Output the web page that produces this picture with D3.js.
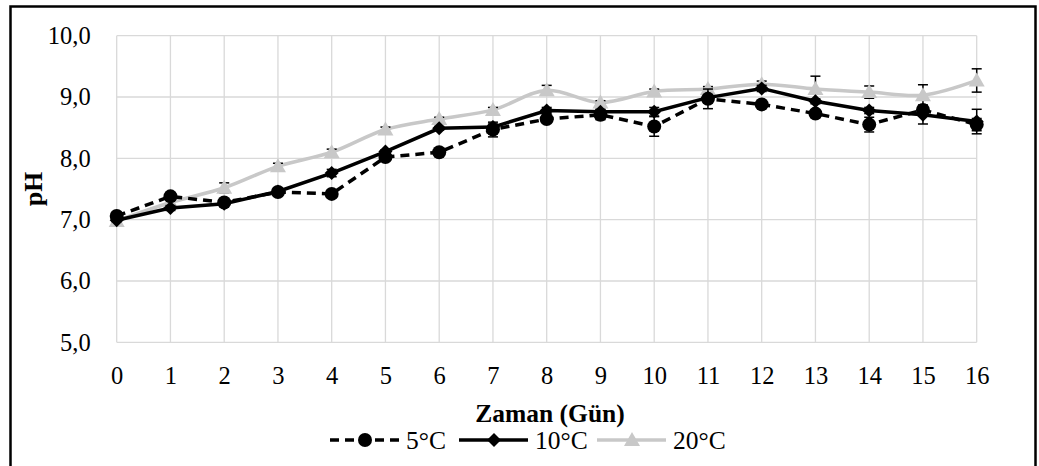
<!DOCTYPE html>
<html>
<head>
<meta charset="utf-8">
<script src="https://cdn.jsdelivr.net/npm/d3@7"></script>
<style>
  body { margin: 0; background: #fff; }
  svg, svg text { font-family: "Times New Roman", "Liberation Serif", Times, "DejaVu Serif", serif !important; }
</style>
</head>
<body>
<div id="chart"></div>
<script>
// days and pH readings
const days = d3.range(0, 17);
const yTicks = [5, 6, 7, 8, 9, 10];

const ph5 = [7.06, 7.38, 7.28, 7.45, 7.42, 8.02, 8.10, 8.47, 8.64, 8.71, 8.52, 8.97, 8.88, 8.73, 8.55, 8.79, 8.55];
const err5 = [0.03, 0.06, 0.03, 0.03, 0.03, 0.04, 0.03, 0.12, 0.05, 0.08, 0.16, 0.16, 0.04, 0.06, 0.12, 0.08, 0.1];

const ph10 = [6.99, 7.19, 7.26, 7.46, 7.76, 8.11, 8.49, 8.51, 8.78, 8.76, 8.76, 8.99, 9.14, 8.93, 8.78, 8.71, 8.60];
const err10 = [0.02, 0.04, 0.02, 0.03, 0.06, 0.03, 0.03, 0.05, 0.05, 0.04, 0.07, 0.05, 0.05, 0.04, 0.05, 0.15, 0.2];

const ph20 = [6.98, 7.28, 7.52, 7.87, 8.10, 8.47, 8.64, 8.79, 9.11, 8.91, 9.09, 9.13, 9.21, 9.13, 9.08, 9.03, 9.27];
const err20 = [0.02, 0.04, 0.08, 0.05, 0.05, 0.04, 0.03, 0.04, 0.08, 0.03, 0.04, 0.04, 0.05, 0.21, 0.1, 0.17, 0.19];

const series = [
  { name: "5°C", values: ph5, err: err5, color: "#000", dash: "9,6", marker: "circle", curve: d3.curveLinear },
  { name: "10°C", values: ph10, err: err10, color: "#000", dash: null, marker: "diamond", curve: d3.curveLinear },
  { name: "20°C", values: ph20, err: err20, color: "#c8c8c8", dash: null, marker: "triangle", curve: d3.curveCatmullRom }
];

const width = 1039, height = 466;
const margin = { top: 35.7, right: 62.3, bottom: 123.7, left: 116.7 };

const svg = d3.select("#chart").append("svg")
  .attr("width", width)
  .attr("height", height);

// outer frame (bottom edge runs off the picture)
svg.append("rect")
  .attr("x", 10.5).attr("y", 6.5)
  .attr("width", 1025).attr("height", 480)
  .attr("fill", "none").attr("stroke", "#000").attr("stroke-width", 2.5);

const x = d3.scaleLinear().domain([0, 16]).range([margin.left, width - margin.right]);
const y = d3.scaleLinear().domain([5, 10]).range([height - margin.bottom, margin.top]);

// grid
const grid = svg.append("g").attr("stroke", "#d9d9d9").attr("stroke-width", 1.3);
grid.selectAll(".hg").data(yTicks).join("line")
  .attr("x1", x(0)).attr("x2", x(16))
  .attr("y1", d => y(d)).attr("y2", d => y(d));
grid.selectAll(".vg").data(days).join("line")
  .attr("x1", d => x(d)).attr("x2", d => x(d))
  .attr("y1", y(5)).attr("y2", y(10));

// axes (text only, Excel style)
const yAxis = svg.append("g")
  .attr("transform", `translate(${x(0) - 23},0)`)
  .call(d3.axisLeft(y).tickValues(yTicks).tickFormat(d => d3.format(".1f")(d).replace(".", ",")).tickSize(0));
const xAxis = svg.append("g")
  .attr("transform", `translate(0,${y(5) + 21})`)
  .call(d3.axisBottom(x).tickValues(days).tickSize(0));
[yAxis, xAxis].forEach(a => {
  a.attr("font-family", null);
  a.select(".domain").remove();
  a.selectAll("text")
    .attr("font-size", 24.5)
    .attr("fill", "#000");
});

// axis titles
svg.append("text")
  .attr("transform", `translate(42,${(y(5) + y(10)) / 2}) rotate(-90)`)
  .attr("text-anchor", "middle")
  .attr("font-size", 25.5).attr("font-weight", "bold")
  .text("pH");

svg.append("text")
  .attr("x", 550).attr("y", 422)
  .attr("text-anchor", "middle")
  .attr("font-size", 25.5).attr("font-weight", "bold")
  .text("Zaman (Gün)");

function marker(sel, type, color) {
  if (type === "circle") {
    sel.append("circle").attr("r", 7).attr("fill", color);
  } else if (type === "diamond") {
    sel.append("path").attr("d", "M0,-7L7,0L0,7L-7,0Z").attr("fill", color);
  } else {
    sel.append("path").attr("d", "M0,-8L8,6L-8,6Z").attr("fill", color);
  }
}

// draw series back to front: 20, 10, 5
series.slice().reverse().forEach(s => {
  const g = svg.append("g");
  const line = d3.line()
    .x((d, i) => x(days[i]))
    .y(d => y(d))
    .curve(s.curve);

  g.append("path")
    .datum(s.values)
    .attr("fill", "none")
    .attr("stroke", s.color)
    .attr("stroke-width", 3.5)
    .attr("stroke-dasharray", s.dash)
    .attr("d", line);

  // error bars
  const eb = g.append("g").attr("stroke", "#000").attr("stroke-width", 1.5);
  s.values.forEach((v, i) => {
    const e = s.err[i];
    const cx = x(days[i]);
    eb.append("line").attr("x1", cx).attr("x2", cx).attr("y1", y(v - e)).attr("y2", y(v + e));
    eb.append("line").attr("x1", cx - 5).attr("x2", cx + 5).attr("y1", y(v - e)).attr("y2", y(v - e));
    eb.append("line").attr("x1", cx - 5).attr("x2", cx + 5).attr("y1", y(v + e)).attr("y2", y(v + e));
  });

  g.selectAll(".pt").data(s.values).join("g")
    .attr("transform", (d, i) => `translate(${x(days[i])},${y(d)})`)
    .each(function() { marker(d3.select(this), s.marker, s.color); });
});

// legend
const legendX = [330, 459, 597];
const legend = svg.append("g").attr("transform", "translate(0,440)");
series.forEach((s, i) => {
  const lg = legend.append("g").attr("transform", `translate(${legendX[i]},0)`);
  lg.append("line")
    .attr("x1", 0).attr("x2", 69)
    .attr("stroke", s.color).attr("stroke-width", 3.5)
    .attr("stroke-dasharray", s.dash);
  const m = lg.append("g").attr("transform", "translate(35,0)");
  marker(m, s.marker, s.color);
  lg.append("text")
    .attr("x", 76).attr("dy", "0.35em")
    .attr("font-size", 25.5)
    .text(s.name);
});
</script>
</body>
</html>
